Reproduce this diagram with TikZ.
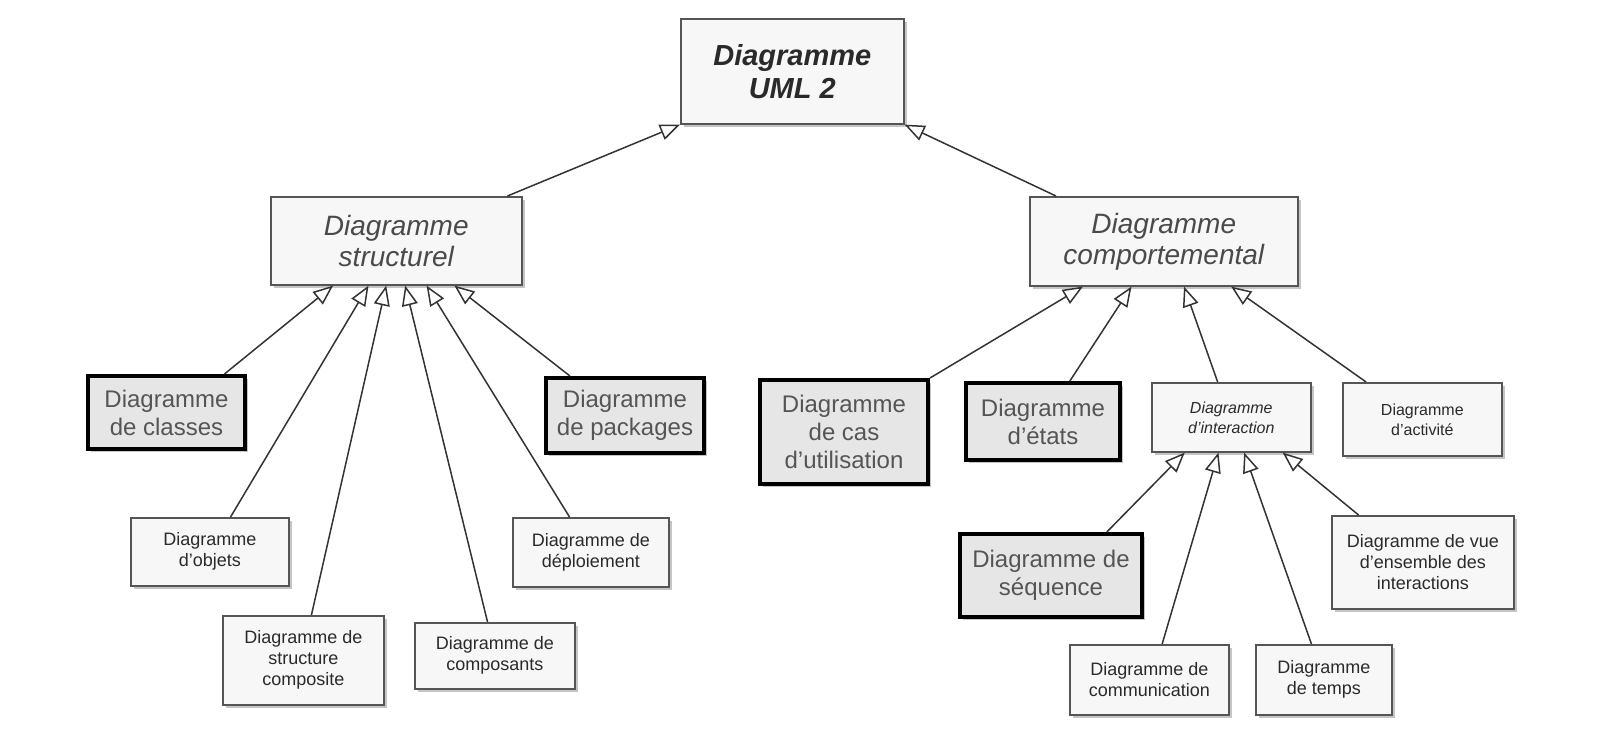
\documentclass[tikz,border=0pt]{standalone}
\usepackage{fontspec}
\setmainfont{Liberation Sans}
\usetikzlibrary{arrows.meta,shadows,calc}
\definecolor{boxfill}{HTML}{F7F7F7}
\definecolor{thickfill}{HTML}{E6E6E6}
\definecolor{thinline}{HTML}{555555}
\definecolor{linecol}{HTML}{333333}
\definecolor{graytext}{HTML}{555555}
\definecolor{darktext}{HTML}{2A2A2A}
\newcommand\inhline[4]{\draw[inh] ($(#1.north west)!#2!(#1.north east)$) -- ($(#3.south west)!#4!(#3.south east)$);}
\begin{document}
\begin{tikzpicture}[x=1pt,y=-1pt,
  base/.style={anchor=north west, rectangle, align=center, inner sep=2pt,
    drop shadow={shadow xshift=3pt, shadow yshift=-3pt, fill=black!45, opacity=0.5}},
  thinbox/.style={base, draw=thinline, line width=1.6pt, fill=boxfill, text=darktext,
    font=\fontsize{18}{21}\selectfont},
  tinybox/.style={thinbox, font=\fontsize{16}{20}\selectfont},
  thickbox/.style={base, draw=black, line width=4pt, fill=thickfill, text=graytext,
    font=\fontsize{24}{28}\selectfont},
  abstbox/.style={base, draw=thinline, line width=1.6pt, fill=boxfill, text=darktext!85,
    font=\fontsize{28}{31}\selectfont\itshape},
  rootbox/.style={abstbox, text=darktext, font=\fontsize{29}{33}\selectfont\bfseries\itshape},
  inh/.style={draw=linecol, line width=1.5pt, -{Triangle[open, length=20pt, width=16pt, line width=1.5pt]}}
]
\useasboundingbox (0,0) rectangle (1600,736);
% level 0
\node[rootbox, minimum width=223pt, minimum height=105pt] (top) at (680,18) {Diagramme\\UML 2};
% level 1
\node[abstbox, minimum width=251pt, minimum height=88pt] (str) at (270,196) {Diagramme\\structurel};
\node[abstbox, minimum width=268pt, minimum height=89pt] (beh) at (1029,196) {Diagramme\\comportemental};
% structural children
\node[thickbox, minimum width=157pt, minimum height=73pt] (cls) at (86,374) {Diagramme\\de classes};
\node[thinbox, minimum width=158pt, minimum height=68pt] (obj) at (130,517) {Diagramme\\d'objets};
\node[thinbox, minimum width=161pt, minimum height=89pt] (csr) at (222,615) {Diagramme de\\structure\\composite};
\node[thinbox, minimum width=160pt, minimum height=66pt] (cmp) at (414,622) {Diagramme de\\composants};
\node[thinbox, minimum width=156pt, minimum height=69pt] (dep) at (512,517) {Diagramme de\\déploiement};
\node[thickbox, minimum width=158pt, minimum height=75pt] (pkg) at (544,376) {Diagramme\\de packages};
% behavioural children
\node[thickbox, minimum width=168pt, minimum height=104pt] (cas) at (758,378) {Diagramme\\de cas\\d'utilisation};
\node[thickbox, minimum width=154pt, minimum height=77pt] (eta) at (964,381) {Diagramme\\d'états};
\node[tinybox, font=\fontsize{16}{20}\selectfont\itshape, minimum width=159pt, minimum height=69pt] (itr) at (1151,382) {Diagramme\\d'interaction};
\node[tinybox, minimum width=159pt, minimum height=73pt] (act) at (1342,382) {Diagramme\\d'activité};
% interaction children
\node[thickbox, minimum width=182pt, minimum height=83pt] (seq) at (958,532) {Diagramme de\\séquence};
\node[thinbox, minimum width=182pt, minimum height=93pt] (vue) at (1331,515) {Diagramme de vue\\d'ensemble des\\interactions};
\node[thinbox, minimum width=159pt, minimum height=70pt] (com) at (1069,644) {Diagramme de\\communication};
\node[thinbox, minimum width=136pt, minimum height=70pt] (tmp) at (1255,644) {Diagramme\\de temps};
% connectors
\inhline{str}{0.94}{top}{0}
\inhline{beh}{0.10}{top}{1}
\inhline{cls}{0.86}{str}{0.25}
\inhline{obj}{0.63}{str}{0.39}
\inhline{csr}{0.55}{str}{0.46}
\inhline{cmp}{0.455}{str}{0.535}
\inhline{dep}{0.365}{str}{0.62}
\inhline{pkg}{0.16}{str}{0.73}
\inhline{cas}{1}{beh}{0.20}
\inhline{eta}{0.67}{beh}{0.38}
\inhline{itr}{0.415}{beh}{0.575}
\inhline{act}{0.15}{beh}{0.75}
\inhline{seq}{0.80}{itr}{0.21}
\inhline{com}{0.58}{itr}{0.42}
\inhline{tmp}{0.41}{itr}{0.58}
\inhline{vue}{0.15}{itr}{0.82}
\end{tikzpicture}
\end{document}
